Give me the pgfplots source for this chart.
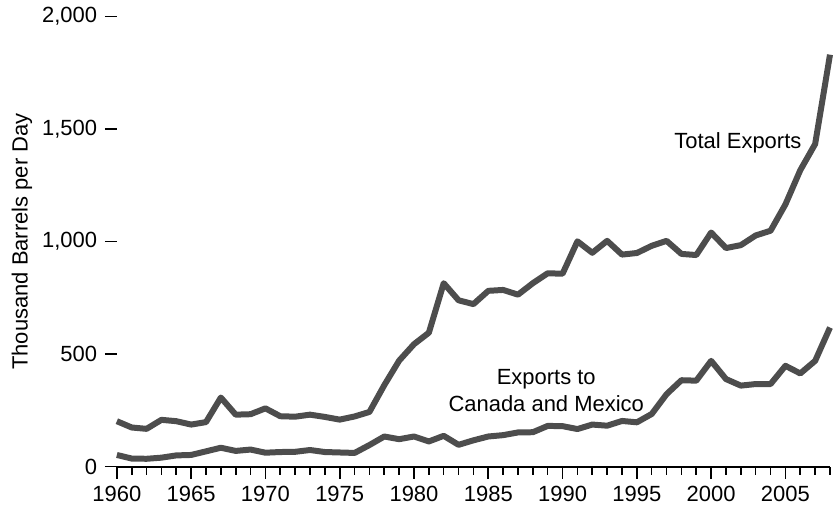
\documentclass[border=0pt]{standalone}
\usepackage{fontspec}
\setmainfont{Liberation Sans}
\usepackage{pgfplots}
\pgfplotsset{compat=1.18}
\definecolor{series}{HTML}{4D4D4D}

\begin{document}
\fontsize{11}{13.5}\selectfont
\begin{tikzpicture}
\begin{axis}[
    name=ax,
    width=357pt, height=225.4pt, scale only axis,
    xmin=1960, xmax=2008, ymin=0, ymax=2000,
    axis x line*=bottom, axis y line*=left,
    y axis line style={draw=none},
    x axis line style={line width=0.9pt},
    xtick={1960,1965,...,2005},
    minor xtick={1960,...,2008},
    ytick={0,500,...,2000},
    tick align=outside,
    major tick length=6pt, minor tick length=4pt,
    every tick/.style={black, line width=0.8pt},
    /pgf/number format/assume math mode=true,
    tick label style={font=\fontsize{11}{13}\selectfont},
    y tick label style={/pgf/number format/1000 sep={,}},
    x tick label style={/pgf/number format/1000 sep={}},
    ylabel={Thousand Barrels per Day},
    ylabel style={at={(axis description cs:-0.133,0.5)}, anchor=center},
    clip=false,
]
% total exports
\addplot[series, line width=3pt, line join=round] coordinates {
    (1960,202) (1961,174) (1962,168) (1963,208) (1964,202) (1965,187)
    (1966,198) (1967,307) (1968,231) (1969,233) (1970,259) (1971,224)
    (1972,222) (1973,231) (1974,221) (1975,209) (1976,223) (1977,243)
    (1978,362) (1979,471) (1980,544) (1981,595) (1982,815) (1983,739)
    (1984,722) (1985,781) (1986,785) (1987,764) (1988,815) (1989,859)
    (1990,857) (1991,1001) (1992,950) (1993,1003) (1994,942) (1995,949)
    (1996,981) (1997,1003) (1998,945) (1999,940) (2000,1040) (2001,971)
    (2002,984) (2003,1027) (2004,1048) (2005,1165) (2006,1317) (2007,1433)
    (2008,1830)
};
% exports to Canada and Mexico
\addplot[series, line width=3pt, line join=round] coordinates {
    (1960,52) (1961,36) (1962,35) (1963,40) (1964,50) (1965,52)
    (1966,68) (1967,84) (1968,70) (1969,76) (1970,62) (1971,65)
    (1972,66) (1973,74) (1974,65) (1975,63) (1976,61) (1977,96)
    (1978,134) (1979,122) (1980,134) (1981,112) (1982,137) (1983,97)
    (1984,117) (1985,134) (1986,140) (1987,152) (1988,153) (1989,181)
    (1990,180) (1991,167) (1992,187) (1993,182) (1994,203) (1995,197)
    (1996,234) (1997,322) (1998,384) (1999,382) (2000,470) (2001,389)
    (2002,360) (2003,367) (2004,367) (2005,448) (2006,414) (2007,470)
    (2008,618)
};
\node[anchor=east, inner sep=0pt] at (axis cs:2006.1,1439) {Total Exports};
\node[align=center, inner sep=0pt] at (axis cs:1988.9,338) {Exports to\\Canada and Mexico};
\end{axis}
% blank margin at the left, as in the original
\path ([xshift=-58.5pt]ax.west);
\end{tikzpicture}
\end{document}
